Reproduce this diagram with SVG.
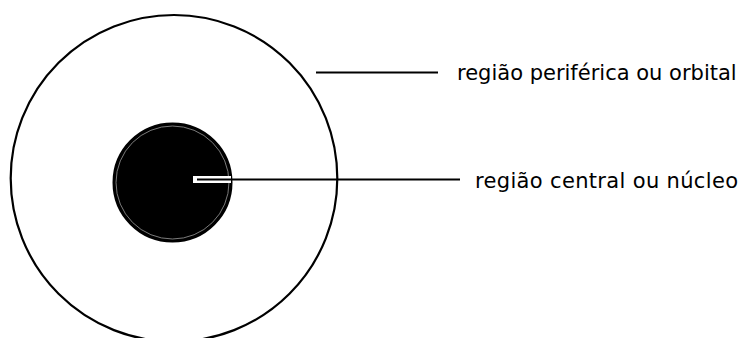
<svg xmlns="http://www.w3.org/2000/svg" width="742" height="338" viewBox="0 0 742 338">
<style>
.lbl{font-family:"DejaVu Sans","Verdana",sans-serif;font-size:21px;fill:#000}
.ln{stroke:#000;stroke-width:2.2;fill:none}
</style>
<rect width="742" height="338" fill="#fff"/>
<g id="orbital">
<circle cx="174" cy="178.3" r="163.3" fill="none" stroke="#000" stroke-width="2.2"/>
</g>
<g id="nucleo">
<circle cx="172.5" cy="182.5" r="59" fill="#000" stroke="#000" stroke-width="2"/>
<circle cx="172.5" cy="182.5" r="56.5" fill="none" stroke="#9a9a9a" stroke-width="0.8"/>
</g>
<g id="connectors">
<line class="ln" x1="316" y1="72.5" x2="438" y2="72.5"/>
<rect x="193" y="176" width="38" height="7" fill="#fff"/>
<line class="ln" x1="197" y1="179.5" x2="460" y2="179.5"/>
</g>
<g id="label-orbital">
<text class="lbl" x="457" y="80">região periférica ou orbital</text>
</g>
<g id="label-nucleo">
<text class="lbl" x="475" y="187.5" textLength="263" lengthAdjust="spacing">região central ou núcleo</text>
</g>
</svg>
